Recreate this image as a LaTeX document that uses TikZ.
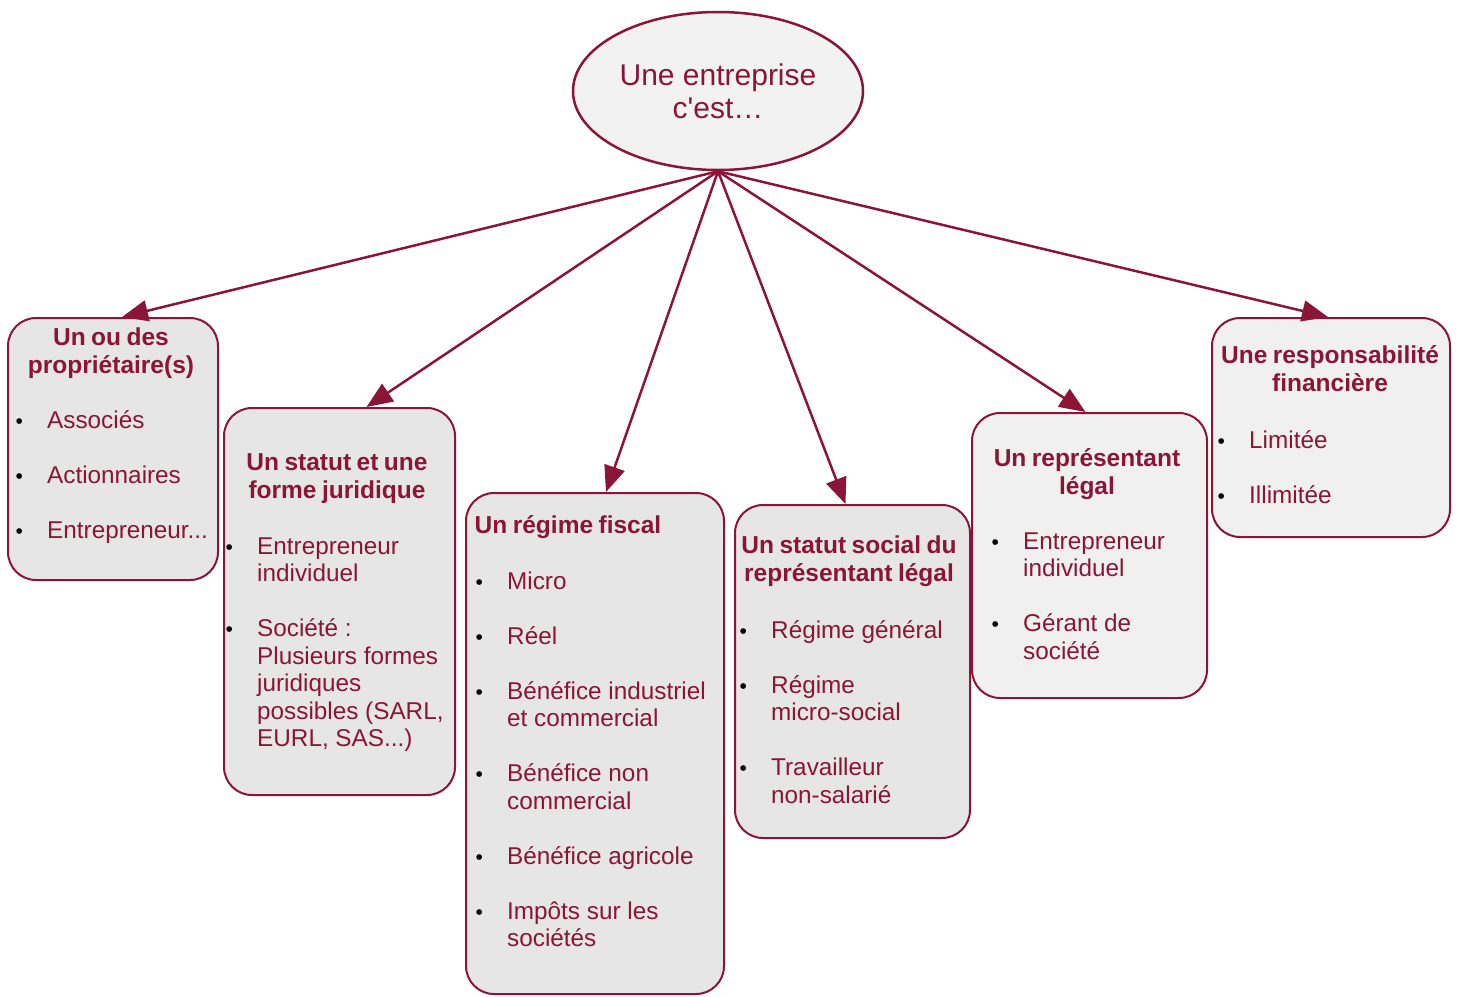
\documentclass[tikz,border=0pt]{standalone}
\usepackage{fontspec}
\setmainfont{Liberation Sans}
\newfontfamily\headfont{Liberation Sans}[WordSpace=0.8]
\usetikzlibrary{arrows.meta,shapes.geometric,calc}
\definecolor{tred}{RGB}{139,21,56}
\definecolor{bfill}{RGB}{230,230,230}
\definecolor{bfillb}{RGB}{240,240,240}
\definecolor{efill}{RGB}{242,242,242}
\newlength\bgap \setlength\bgap{28pt}
\newcommand\bul{\textcolor{black}{\fontsize{21}{21}\selectfont\textbullet}}
\newcommand\apos{\XeTeXglyph\numexpr\XeTeXcharglyph"27\relax}
\newcommand\firstitem[1]{\noindent\llap{\makebox[0pt]{\bul}\hskip\bgap}#1\par}
\newcommand\nextitem[1]{\vskip27.5pt\firstitem{#1}}
\newcommand\headbox[2]{\vtop{\hsize=#1pt\parindent=0pt\centering\headfont\bfseries\fontsize{24.5}{28}\selectfont #2\par}}
\newcommand\itembox[2]{\vtop{\hsize=#1pt\parindent=0pt\raggedright\fontsize{24.3}{27.5}\selectfont #2}}
\tikzset{
  box/.style={draw=tred, line width=2pt, rounded corners=28pt, rectangle, inner sep=0pt},
  conn/.style={draw=tred, line width=2.5pt, -{Triangle[length=26pt,width=21pt]}},
  txt/.style={inner sep=0pt, text=tred},
}
\begin{document}
\begin{tikzpicture}[x=1pt,y=-1pt]
\useasboundingbox[fill=white] (0,0) rectangle (1459,996);
% central ellipse
\node[ellipse, draw=tred, line width=2.5pt, fill=efill, minimum width=290pt, minimum height=158pt, inner sep=0pt, text=tred, align=center, font=\fontsize{30}{33}\selectfont] (e) at (718,91) {Une entreprise\\c\apos est…};
% boxes
\node[box, fill=bfill,  minimum width=210pt, minimum height=262pt] (b1) at (113,449) {};
\node[box, fill=bfill,  minimum width=231pt, minimum height=387pt] (b2) at (339.5,601.5) {};
\node[box, fill=bfill,  minimum width=258pt, minimum height=501pt] (b3) at (595,743.5) {};
\node[box, fill=bfill,  minimum width=235pt, minimum height=333pt] (b4) at (852.5,671.5) {};
\node[box, fill=bfillb, minimum width=235pt, minimum height=285pt] (b5) at (1089.5,555.5) {};
\node[box, fill=bfillb, minimum width=238pt, minimum height=219pt] (b6) at (1331,427.5) {};
% headings
\node[txt, anchor=base] (h1) at (111,345) {\headbox{240}{Un ou des\\propriétaire(s)}};
\node[txt, anchor=base] (h2) at (337,470) {\headbox{240}{Un statut et une\\forme juridique}};
\node[txt, anchor=base] (h3) at (568,533) {\headbox{240}{Un régime fiscal}};
\node[txt, anchor=base] (h4) at (849,553) {\headbox{260}{Un statut social du\\représentant légal}};
\node[txt, anchor=base] (h5) at (1087,466) {\headbox{240}{Un représentant\\légal}};
\node[txt, anchor=base] (h6) at (1330,363) {\headbox{260}{Une responsabilité\\financière}};
% item lists
\node[txt, anchor=base west] (l1) at (47,428) {\itembox{220}{\firstitem{Associés}\nextitem{Actionnaires}\nextitem{Entrepreneur...}}};
\node[txt, anchor=base west] (l2) at (257,554) {\itembox{230}{\firstitem{Entrepreneur\\individuel}\nextitem{Société :\\Plusieurs formes\\juridiques\\possibles (SARL,\\EURL, SAS...)}}};
\node[txt, anchor=base west] (l3) at (507,589) {\itembox{240}{\firstitem{Micro}\nextitem{Réel}\nextitem{Bénéfice industriel\\et commercial}\nextitem{Bénéfice non\\commercial}\nextitem{Bénéfice agricole}\nextitem{Impôts sur les\\sociétés}}};
\node[txt, anchor=base west] (l4) at (771,638) {\itembox{230}{\firstitem{Régime général}\nextitem{Régime\\micro-social}\nextitem{Travailleur\\non-salarié}}};
\node[txt, anchor=base west] (l5) at (1023,549) {\itembox{230}{\firstitem{Entrepreneur\\individuel}\nextitem{Gérant de\\société}}};
\node[txt, anchor=base west] (l6) at (1249,448) {\itembox{200}{\firstitem{Limitée}\nextitem{Illimitée}}};
% connectors
\draw[conn] (e.south) -- ([xshift=9pt]b1.north);
\draw[conn] (e.south) -- ([xshift=27pt]b2.north);
\draw[conn] (e.south) -- ([xshift=11pt]b3.north);
\draw[conn] (e.south) -- ([xshift=-7pt]b4.north);
\draw[conn] (e.south) -- ([xshift=-4pt]b5.north);
\draw[conn] (e.south) -- ([xshift=-3pt]b6.north);
\end{tikzpicture}
\end{document}
